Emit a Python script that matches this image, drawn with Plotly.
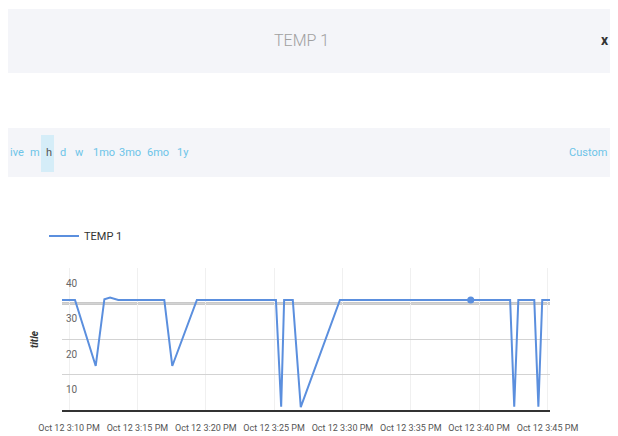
import plotly.graph_objects as go

# ---- data ----
times = [
    "2017-10-12 15:09:29", "2017-10-12 15:10:26", "2017-10-12 15:11:57", "2017-10-12 15:12:35",
    "2017-10-12 15:13:00", "2017-10-12 15:13:36", "2017-10-12 15:16:58", "2017-10-12 15:17:33",
    "2017-10-12 15:19:21", "2017-10-12 15:25:08", "2017-10-12 15:25:31", "2017-10-12 15:25:44",
    "2017-10-12 15:26:22", "2017-10-12 15:26:57", "2017-10-12 15:29:49", "2017-10-12 15:39:23",
    "2017-10-12 15:42:16", "2017-10-12 15:42:34", "2017-10-12 15:42:52", "2017-10-12 15:44:02",
    "2017-10-12 15:44:20", "2017-10-12 15:44:37", "2017-10-12 15:45:11",
]
temp = [31, 31, 12.4, 31.2, 31.7, 31, 31, 12.4, 31, 31, 0.9, 31, 31, 0.8, 31, 31,
        31, 0.9, 31, 31, 0.9, 31, 31]
highlight_index = 15

x_tick_vals = ["2017-10-12 15:%02d:00" % m for m in (10, 15, 20, 25, 30, 35, 40, 45)]
y_tick_vals = [10, 20, 30, 40]
x_range = ["2017-10-12 15:09:29", "2017-10-12 15:45:11"]
y_range = [0, 40]
threshold = 30

series_name = "TEMP 1"
y_title = "title"
buttons = ["ive", "m", "h", "d", "w", "1mo", "3mo", "6mo", "1y"]
button_left = [8, 28, 44, 58, 73, 91, 117, 145, 175]
active_button = "h"

W, H = 618, 436
OFF = 8  # page body margin
FONT = "Roboto, sans-serif"
LINE = "#5b8fde"
BTN = "#6cc4e8"


def px(x):
    return (x - OFF) / W


def py(y):
    return 1 - (y - OFF) / H


fig = go.Figure()
fig.add_trace(go.Scatter(
    x=times, y=temp, mode="lines", name=series_name,
    line=dict(color=LINE, width=2), showlegend=True,
))
fig.add_trace(go.Scatter(
    x=[times[highlight_index]], y=[temp[highlight_index]], mode="markers", yaxis="y2",
    marker=dict(color=LINE, size=7), showlegend=False, hoverinfo="skip",
))

shapes = [
    # title bar
    dict(type="rect", xref="paper", yref="paper", x0=px(7), x1=1.0, y0=py(73), y1=py(9),
         fillcolor="#f4f5f9", line=dict(width=0), layer="below"),
    # toolbar
    dict(type="rect", xref="paper", yref="paper", x0=px(7), x1=1.0, y0=py(177), y1=py(128),
         fillcolor="#f4f5f9", line=dict(width=0), layer="below"),
    # active button bg
    dict(type="rect", xref="paper", yref="paper", x0=px(41), x1=px(54), y0=py(172), y1=py(135),
         fillcolor="#d5edf8", line=dict(width=0), layer="below"),
    # threshold line
    dict(type="line", xref="x domain", yref="y", x0=0, x1=1, y0=threshold, y1=threshold,
         line=dict(color="#c9c9c9", width=3), layer="below"),
]

annotations = [
    dict(text=series_name, x=px(301), y=py(40), xref="paper", yref="paper", showarrow=False,
         font=dict(family=FONT, size=16, color="#a0a0a0", weight=300), xanchor="center", yanchor="middle"),
    dict(text="<b>x</b>", x=px(605), y=py(40), xref="paper", yref="paper", showarrow=False,
         font=dict(family=FONT, size=14, color="#333333"), xanchor="center", yanchor="middle"),
    dict(text="Custom", x=px(609), y=py(153), xref="paper", yref="paper", showarrow=False,
         font=dict(family=FONT, size=11, color=BTN), xanchor="right", yanchor="middle"),
    dict(text=y_title, x=px(34), y=py(339), xref="paper", yref="paper", showarrow=False,
         textangle=-90, font=dict(family=FONT, size=10, color="#333333", style="italic", weight="bold"),
         xanchor="center", yanchor="middle"),
]
for b, bx in zip(buttons, button_left):
    annotations.append(dict(
        text=b, x=px(bx), y=py(153), xref="paper", yref="paper", showarrow=False,
        font=dict(family=FONT, size=11, color="#555555" if b == active_button else BTN),
        xanchor="left", yanchor="middle"))

fig.update_layout(
    template="none",
    width=W, height=H,
    margin=dict(l=0, r=0, t=0, b=0, autoexpand=False),
    paper_bgcolor="white", plot_bgcolor="white",
    shapes=shapes, annotations=annotations,
    showlegend=True,
    legend=dict(x=px(44), y=py(236), xanchor="left", yanchor="middle",
                font=dict(family=FONT, size=11, color="#333333"),
                bgcolor="rgba(0,0,0,0)"),
    xaxis=dict(
        domain=[px(62), px(550)], range=x_range, type="date", automargin=False,
        tickvals=x_tick_vals, tickformat="%b %-d %-I:%M %p", tickangle=0,
        ticklabeloverflow="allow", ticklabelstandoff=8,
        showgrid=True, gridcolor="#f0f0f0", gridwidth=1,
        showline=True, linecolor="#333333", linewidth=1.5,
        ticks="", zeroline=False,
        tickfont=dict(family=FONT, size=9, color="#555555"),
    ),
    yaxis=dict(
        domain=[py(410), py(268)], range=y_range, automargin=False,
        tickvals=y_tick_vals, showgrid=True, gridcolor="#d3d3d3", gridwidth=1,
        zeroline=False, showline=False, ticks="", showticklabels=False,
    ),
    yaxis2=dict(
        overlaying="y", anchor="free", position=px(62), side="right",
        range=y_range, automargin=False,
        tickvals=y_tick_vals, showgrid=False, zeroline=False, showline=False, ticks="",
        ticklabelstandoff=3, ticklabelshift=15,
        tickfont=dict(family=FONT, size=10, color="#666666"),
    ),
)

fig.write_html("out.html")
